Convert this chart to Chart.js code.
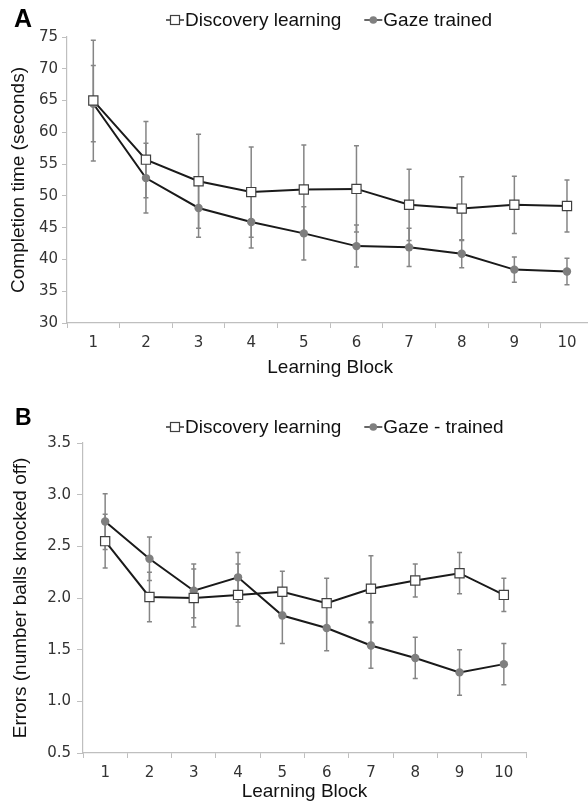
<!DOCTYPE html>
<html><head><meta charset="utf-8">
<script src="https://cdn.jsdelivr.net/npm/chart.js@4"></script>
<style>
html,body{margin:0;padding:0;background:#fff;overflow:hidden;width:588px;height:804px}
#ca{position:absolute;left:0;top:0;width:601px;height:385px}
#cb{position:absolute;left:0;top:390px;width:588px;height:414px}
</style></head><body>
<canvas id="ca" width="601" height="385"></canvas>
<canvas id="cb" width="588" height="414"></canvas>
<script>
// ---- data ----
const blocks = ['1','2','3','4','5','6','7','8','9','10'];
const seriesNamesA = ['Discovery learning', 'Gaze trained'];
const seriesNamesB = ['Discovery learning', 'Gaze - trained'];

const timeDiscovery    = [65.0, 55.7, 52.3, 50.6, 51.0, 51.1, 48.6, 48.0, 48.6, 48.4];
const timeDiscoveryErr = [9.5, 6.0, 7.4, 7.1, 7.0, 6.8, 5.6, 5.0, 4.5, 4.1];
const timeGaze         = [64.5, 52.8, 48.1, 45.9, 44.1, 42.1, 41.9, 40.9, 38.4, 38.1];
const timeGazeErr      = [6.0, 5.5, 4.6, 4.1, 4.2, 3.3, 3.0, 2.2, 2.0, 2.1];

const errDiscovery     = [2.55, 2.01, 2.00, 2.03, 2.06, 1.95, 2.09, 2.17, 2.24, 2.03];
const errDiscoveryErr  = [0.26, 0.24, 0.28, 0.30, 0.20, 0.24, 0.32, 0.16, 0.20, 0.16];
const errGaze          = [2.74, 2.38, 2.07, 2.20, 1.83, 1.71, 1.54, 1.42, 1.28, 1.36];
const errGazeErr       = [0.27, 0.21, 0.26, 0.24, 0.27, 0.22, 0.22, 0.20, 0.22, 0.20];

const timeAxis  = {min: 30, max: 75, step: 5};
const errorAxis = {min: 0.5, max: 3.5, step: 0.5};

// ---- styles ----
const FONT = '"Liberation Sans", Arial, sans-serif';
const TICKFONT = '"DejaVu Sans", sans-serif';
const AXIS_GRAY = '#bfbfbf';
const TEXT = '#111111';
const TICK_TEXT = '#333333';

const errorBarPlugin = {
  id: 'errorBars',
  beforeDatasetsDraw(chart) {
    const ctx = chart.ctx;
    const yScale = chart.scales.y;
    ctx.save();
    ctx.strokeStyle = '#858585';
    ctx.lineWidth = 1.5;
    chart.data.datasets.forEach((ds, di) => {
      const meta = chart.getDatasetMeta(di);
      if (!ds.errorBars) return;
      meta.data.forEach((pt, i) => {
        const v = ds.data[i], e = ds.errorBars[i];
        const x = pt.x;
        const yt = yScale.getPixelForValue(v + e);
        const yb = yScale.getPixelForValue(v - e);
        ctx.beginPath();
        ctx.moveTo(x, yt); ctx.lineTo(x, yb);
        ctx.moveTo(x - 2.5, yt); ctx.lineTo(x + 2.5, yt);
        ctx.moveTo(x - 2.5, yb); ctx.lineTo(x + 2.5, yb);
        ctx.stroke();
      });
    });
    ctx.restore();
  }
};

const legendPlugin = {
  id: 'panelLegend',
  afterDraw(chart, args, opts) {
    const ctx = chart.ctx;
    ctx.save();
    // panel letter
    ctx.font = 'bold ' + opts.letterSize + 'px ' + FONT;
    ctx.fillStyle = '#000';
    ctx.textBaseline = 'alphabetic';
    ctx.fillText(opts.letter, opts.letterX, opts.letterY);
    // legend items
    ctx.font = '19px ' + FONT;
    ctx.textBaseline = 'middle';
    let x = opts.x;
    const y = opts.y;
    chart.data.datasets.forEach((ds) => {
      ctx.strokeStyle = '#333';
      ctx.lineWidth = 1.5;
      ctx.beginPath(); ctx.moveTo(x, y); ctx.lineTo(x + 18, y); ctx.stroke();
      if (ds.pointStyle === 'rect') {
        ctx.fillStyle = '#fff';
        ctx.strokeStyle = '#404040';
        ctx.lineWidth = 1.2;
        ctx.fillRect(x + 4.5, y - 4.5, 9, 9);
        ctx.strokeRect(x + 4.5, y - 4.5, 9, 9);
      } else {
        ctx.fillStyle = '#808080';
        ctx.beginPath(); ctx.arc(x + 9, y, 3.8, 0, Math.PI * 2); ctx.fill();
      }
      ctx.fillStyle = TEXT;
      ctx.fillText(ds.label, x + 19, y + 1);
      x += 19 + ctx.measureText(ds.label).width + 23;
    });
    ctx.restore();
  }
};

function makeDatasets(names, d1, e1, d2, e2) {
  return [
    {label: names[0], data: d1, errorBars: e1, borderColor: '#1a1a1a', borderWidth: 2,
     pointStyle: 'rect', pointRadius: 6.5, pointBackgroundColor: '#ffffff',
     pointBorderColor: '#404040', pointBorderWidth: 1.2, tension: 0, fill: false},
    {label: names[1], data: d2, errorBars: e2, borderColor: '#1a1a1a', borderWidth: 2,
     pointStyle: 'circle', pointRadius: 4.2, pointBackgroundColor: '#7f7f7f',
     pointBorderColor: '#7f7f7f', pointBorderWidth: 0, tension: 0, fill: false}
  ];
}

function makeOptions(cfg) {
  return {
    responsive: false, animation: false, devicePixelRatio: 1,
    layout: {padding: cfg.padding},
    plugins: {
      legend: {display: false}, tooltip: {enabled: false},
      panelLegend: cfg.legend
    },
    scales: {
      x: {
        offset: true,
        grid: {offset: true, drawOnChartArea: false, tickLength: 5, color: AXIS_GRAY},
        border: {color: AXIS_GRAY, width: 1.2},
        ticks: {font: {family: TICKFONT, size: 15}, color: TICK_TEXT, padding: cfg.xTickPad, maxRotation: 0, autoSkip: false},
        title: {display: true, text: 'Learning Block', font: {family: FONT, size: 19}, color: TEXT, padding: {top: 0, bottom: cfg.xTitlePad}},
        afterFit(s) { s.height = cfg.xHeight; }
      },
      y: {
        min: cfg.axis.min, max: cfg.axis.max,
        grid: {drawOnChartArea: false, tickLength: cfg.yTickLen, color: AXIS_GRAY},
        border: {color: AXIS_GRAY, width: 1.2},
        ticks: {stepSize: cfg.axis.step, font: {family: TICKFONT, size: 15}, color: TICK_TEXT, padding: cfg.yTickPad,
                callback: cfg.tickFmt},
        title: {display: true, text: cfg.yTitle, font: {family: FONT, size: 19}, color: TEXT, padding: {top: cfg.yTitlePad, bottom: 0}},
        afterFit(s) { s.width = cfg.yWidth; }
      }
    }
  };
}

new Chart(document.getElementById('ca'), {
  type: 'line',
  data: {labels: blocks, datasets: makeDatasets(seriesNamesA, timeDiscovery, timeDiscoveryErr, timeGaze, timeGazeErr)},
  options: makeOptions({
    padding: {top: 37, right: 1, left: 0, bottom: 0},
    axis: timeAxis, yTitle: 'Completion time (seconds)',
    tickFmt: v => String(v),
    xHeight: 62, yWidth: 67, xTickPad: 6, xTitlePad: 6, yTickPad: 4, yTickLen: 5, yTitlePad: 7,
    legend: {x: 166, y: 20, letter: 'A', letterX: 14, letterY: 27, letterSize: 25}
  }),
  plugins: [errorBarPlugin, legendPlugin]
});

new Chart(document.getElementById('cb'), {
  type: 'line',
  data: {labels: blocks, datasets: makeDatasets(seriesNamesB, errDiscovery, errDiscoveryErr, errGaze, errGazeErr)},
  options: makeOptions({
    padding: {top: 53, right: 62, left: 0, bottom: 0},
    axis: errorAxis, yTitle: 'Errors (number balls knocked off)',
    tickFmt: v => Number(v).toFixed(1),
    xHeight: 51, yWidth: 83, xTickPad: 6, xTitlePad: 1, yTickPad: 6, yTickLen: 6, yTitlePad: 9,
    legend: {x: 166, y: 37, letter: 'B', letterX: 15, letterY: 35, letterSize: 23}
  }),
  plugins: [errorBarPlugin, legendPlugin]
});
</script>
</body></html>
